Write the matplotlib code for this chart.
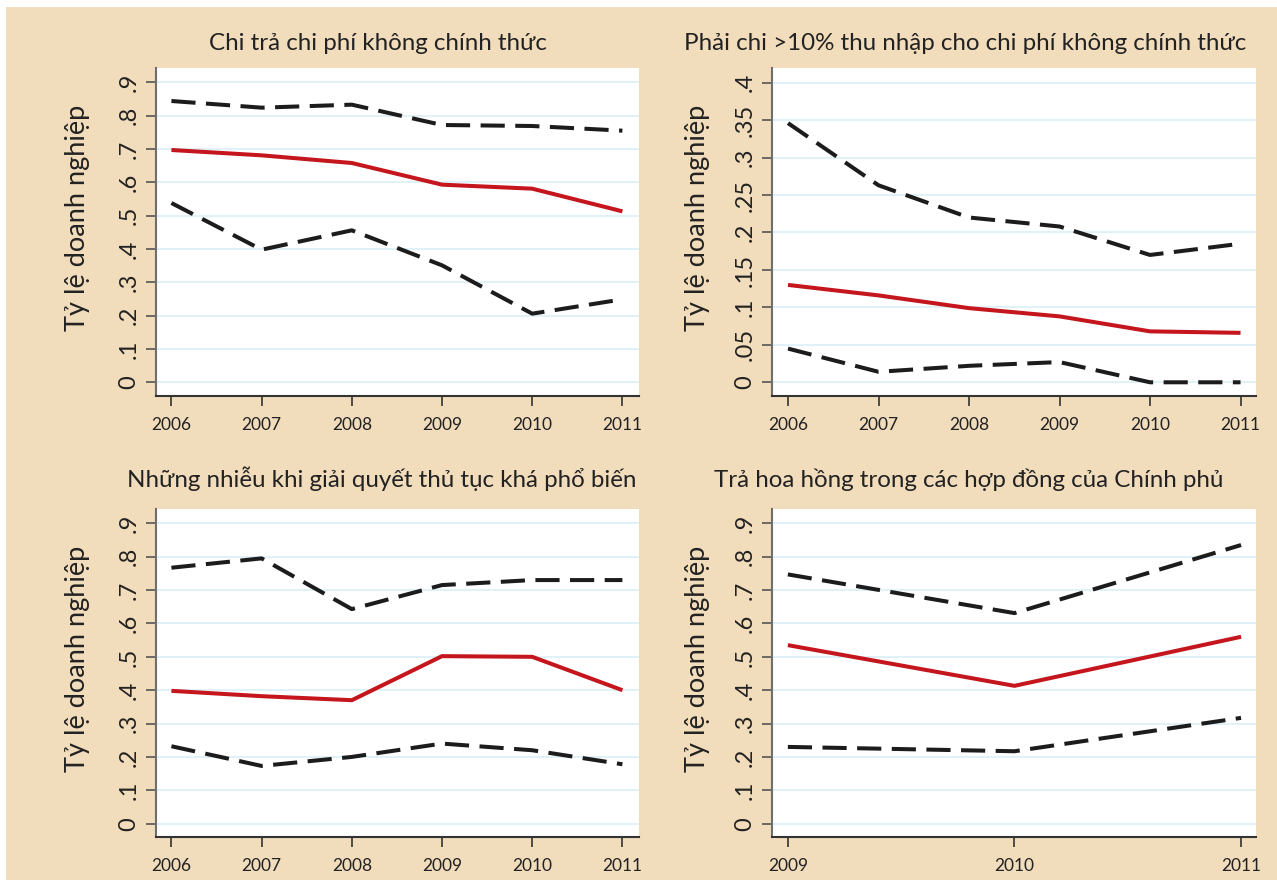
import matplotlib
matplotlib.use("Agg")
import matplotlib.pyplot as plt
from matplotlib.patches import Rectangle

# ---------------- data ----------------
years_a = [2006, 2007, 2008, 2009, 2010, 2011]
years_b = [2009, 2010, 2011]

titles = [
    "Chi trả chi phí không chính thức",
    "Phải chi >10% thu nhập cho chi phí không chính thức",
    "Những nhiễu khi giải quyết thủ tục khá phổ biến",
    "Trả hoa hồng trong các hợp đồng của Chính phủ",
]
ylabel = "Tỷ lệ doanh nghiệp"

p1_upper = [0.844, 0.824, 0.833, 0.772, 0.769, 0.755]
p1_mean = [0.697, 0.681, 0.658, 0.593, 0.581, 0.513]
p1_lower = [0.538, 0.398, 0.456, 0.351, 0.206, 0.249]

p2_upper = [0.346, 0.263, 0.220, 0.208, 0.170, 0.185]
p2_mean = [0.130, 0.116, 0.099, 0.088, 0.068, 0.066]
p2_lower = [0.045, 0.014, 0.022, 0.027, 0.000, 0.000]

p3_upper = [0.767, 0.795, 0.643, 0.715, 0.730, 0.730]
p3_mean = [0.398, 0.382, 0.370, 0.502, 0.500, 0.400]
p3_lower = [0.232, 0.173, 0.200, 0.240, 0.220, 0.178]

p4_upper = [0.747, 0.631, 0.835]
p4_mean = [0.535, 0.413, 0.560]
p4_lower = [0.230, 0.217, 0.317]

yticks_09 = [0, 0.1, 0.2, 0.3, 0.4, 0.5, 0.6, 0.7, 0.8, 0.9]
yticklabels_09 = ["0", ".1", ".2", ".3", ".4", ".5", ".6", ".7", ".8", ".9"]
yticks_04 = [0, 0.05, 0.1, 0.15, 0.2, 0.25, 0.3, 0.35, 0.4]
yticklabels_04 = ["0", ".05", ".1", ".15", ".2", ".25", ".3", ".35", ".4"]

# ---------------- style ----------------
FONT = ["Lato", "DejaVu Sans"]
plt.rcParams["font.family"] = FONT
BEIGE = "#F1DCBC"
RED = "#C4161C"
DARK = "#1c1c1c"
GRID = "#DCEFF7"

W, H = 1277, 880
fig = plt.figure(figsize=(W / 100, H / 100), dpi=100, facecolor="white")
fig.patches.append(Rectangle((6 / W, 0), 1 - 6 / W, 1 - 7 / H,
                             transform=fig.transFigure, facecolor=BEIGE,
                             edgecolor="none", zorder=-10))


def px_axes(l, r, t, b):
    return fig.add_axes([l / W, 1 - b / H, (r - l) / W, (b - t) / H])


panels = [
    dict(box=(156, 639, 68, 396), x=years_a, up=p1_upper, mid=p1_mean, lo=p1_lower,
         xlim=(2005.829, 2011.184), ylim=(-0.041, 0.943),
         yt=yticks_09, ytl=yticklabels_09, title=(378, 50), ylab=78),
    dict(box=(772, 1256, 68, 396), x=years_a, up=p2_upper, mid=p2_mean, lo=p2_lower,
         xlim=(2005.823, 2011.171), ylim=(-0.0183, 0.4196),
         yt=yticks_04, ytl=yticklabels_04, title=(965, 50), ylab=697),
    dict(box=(156, 639, 509, 837), x=years_a, up=p3_upper, mid=p3_mean, lo=p3_lower,
         xlim=(2005.829, 2011.184), ylim=(-0.040, 0.943),
         yt=yticks_09, ytl=yticklabels_09, title=(382, 487), ylab=78),
    dict(box=(772, 1256, 509, 837), x=years_b, up=p4_upper, mid=p4_mean, lo=p4_lower,
         xlim=(2008.930, 2011.066), ylim=(-0.040, 0.943),
         yt=yticks_09, ytl=yticklabels_09, title=(969, 487), ylab=697),
]

for p, title in zip(panels, titles):
    l, r, t, b = p["box"]
    ax = px_axes(l, r, t, b)
    ax.set_facecolor("white")
    ax.set_xlim(*p["xlim"])
    ax.set_ylim(*p["ylim"])
    ax.set_yticks(p["yt"])
    ax.set_yticklabels(p["ytl"])
    ax.set_xticks(p["x"])
    ax.set_xticklabels([str(v) for v in p["x"]])
    ax.grid(axis="y", color=GRID, linewidth=1.2, zorder=0)
    ax.set_axisbelow(True)
    dash = (0, (6.0, 2.6))
    ax.plot(p["x"], p["up"], color=DARK, linewidth=2.9, linestyle=dash,
            dash_capstyle="butt", zorder=3)
    ax.plot(p["x"], p["lo"], color=DARK, linewidth=2.9, linestyle=dash,
            dash_capstyle="butt", zorder=3)
    ax.plot(p["x"], p["mid"], color=RED, linewidth=2.9, solid_capstyle="butt",
            zorder=4)
    for s in ("top", "right"):
        ax.spines[s].set_visible(False)
    ax.spines["left"].set_color("#6e6e6e")
    ax.spines["left"].set_linewidth(1.5)
    ax.spines["bottom"].set_color("#333333")
    ax.spines["bottom"].set_linewidth(1.5)
    ax.tick_params(axis="y", direction="out", length=7, width=1.2, color="#555555",
                   labelsize=17, labelcolor="#222222", pad=5, labelrotation=90)
    for lab in ax.get_yticklabels():
        lab.set_verticalalignment("center")
        lab.set_fontfamily(FONT)
    ax.tick_params(axis="x", direction="out", length=7, width=1.2, color="#333333",
                   labelsize=12.5, labelcolor="#222222", pad=8)
    tx, ty = p["title"]
    fig.text(tx / W, 1 - ty / H, title, ha="center", va="baseline",
             fontsize=17.4, color="#222222", family=FONT)
    fig.text(p["ylab"] / W, 1 - ((t + b) / 2 - 14) / H, ylabel, rotation=90,
             ha="center", va="center", fontsize=19.5, color="#222222", family=FONT)

fig.savefig("out.png", dpi=100, facecolor=fig.get_facecolor())
